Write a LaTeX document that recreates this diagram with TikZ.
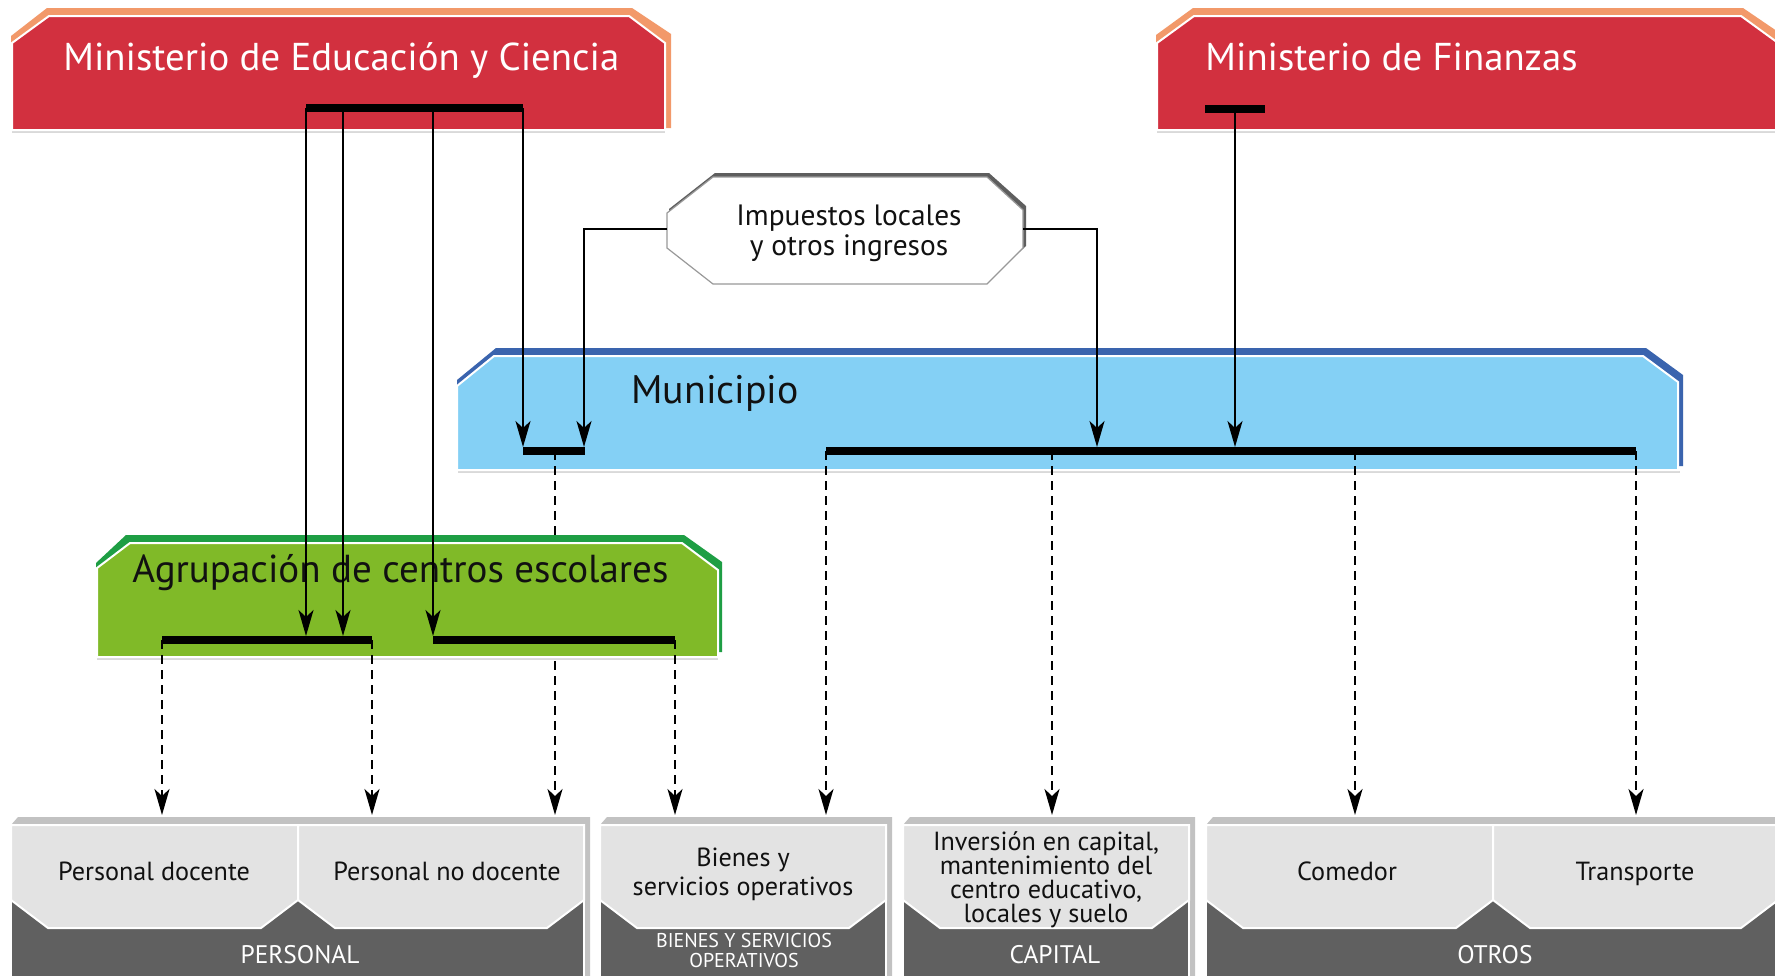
\documentclass[tikz,border=0pt]{standalone}
\usepackage{fontspec}
\setmainfont{PT Sans}
\usetikzlibrary{arrows.meta}
\definecolor{mecred}{HTML}{D2303F}
\definecolor{mecorange}{HTML}{F2996A}
\definecolor{munblue}{HTML}{84D0F5}
\definecolor{munborder}{HTML}{3A64AE}
\definecolor{agrgreen}{HTML}{80BA28}
\definecolor{agrborder}{HTML}{1E9E44}
\definecolor{lightbox}{HTML}{E3E3E3}
\definecolor{darkband}{HTML}{606060}
\definecolor{sideface}{HTML}{C2C2C2}
\definecolor{impborder}{HTML}{5E5E5E}
\definecolor{inkc}{HTML}{111111}
\newcommand{\lbox}[2]{\path[fill=lightbox,draw=white,line width=1pt] (#1,825) -- (#2,825) -- (#2,900) -- ({#2-37},928) -- ({#1+37},928) -- (#1,900) -- cycle;}
\newcommand{\grpbase}[2]{%
  \path[fill=sideface] (#1,825) -- ({#1+7},817) -- ({#2+6},817) -- ({#2+6},980) -- (#1,980) -- cycle;
  \path[fill=darkband,draw=white,line width=0.8pt] (#1,895) rectangle (#2,985);}
\begin{document}
\begin{tikzpicture}[x=0.5pt,y=-0.5pt,
  bar/.style={line width=4pt},
  conn/.style={line width=1pt,-{Stealth[length=13pt,width=7.5pt,inset=3.5pt]}},
  dconn/.style={line width=1pt,dash pattern=on 4.5pt off 3pt,-{Stealth[length=13pt,width=7.5pt,inset=3.5pt]}},
  facefill/.style={draw=white,line width=1pt},
  bigtitle/.style={inner sep=0pt,anchor=base west,font=\fontsize{19.4}{22}\selectfont},
  boxtxt/.style={inner sep=0pt,anchor=base,text=inkc,font=\fontsize{13.1}{15}\selectfont},
  bandtxt/.style={inner sep=0pt,anchor=base,text=white,font=\fontsize{12.7}{14}\selectfont},
  smallband/.style={inner sep=0pt,anchor=base,text=white,font=\fontsize{10}{11}\selectfont}
]
\useasboundingbox (0,0) rectangle (1775,975);
\clip (0,0) rectangle (1775,975);
\fill[white] (0,0) rectangle (1775,975);

% ---- Ministerio de Educacion y Ciencia
\fill[mecorange] (11,36) -- (47,8) -- (632,8) -- (671,34) -- (671,128) -- (11,128) -- cycle;
\draw[black!15,line width=1pt] (12,132) -- (665,132);
\path[fill=mecred,facefill] (12,43) -- (49,16) -- (629,16) -- (665,43) -- (665,130) -- (12,130) -- cycle;
\node[bigtitle,text=white] (mectxt) at (63,70) {Ministerio de Educación y Ciencia};

% ---- Ministerio de Finanzas
\fill[mecorange] (1156,35) -- (1193,8) -- (1743,8) -- (1790,40) -- (1790,128) -- (1156,128) -- cycle;
\draw[black!15,line width=1pt] (1157,132) -- (1780,132);
\path[fill=mecred,facefill] (1157,43) -- (1194,16) -- (1741,16) -- (1785,48) -- (1785,130) -- (1157,130) -- cycle;
\node[bigtitle,text=white] (fintxt) at (1205,70) {Ministerio de Finanzas};

% ---- Impuestos
\fill[impborder] (669,209) -- (715,173) -- (989,173) -- (1026,206) -- (1026,246) -- (989,280) -- (715,280) -- (669,244) -- cycle;
\path[fill=white,draw=black!40,line width=0.6pt] (667,213) -- (713,177) -- (987,177) -- (1023,210) -- (1023,248) -- (987,284) -- (713,284) -- (667,248) -- cycle;
\node[inner sep=0pt,anchor=base,text=inkc,font=\fontsize{14.7}{16}\selectfont] (impA) at (849,225) {Impuestos locales};
\node[inner sep=0pt,anchor=base,text=inkc,font=\fontsize{14.7}{16}\selectfont] (impB) at (849,255) {y otros ingresos};
\coordinate (impL) at (667,229);
\coordinate (impR) at (1023,229);

% ---- Municipio
\fill[munborder] (457,380) -- (496,348) -- (1646,348) -- (1683,375) -- (1683,466) -- (457,466) -- cycle;
\draw[black!15,line width=1pt] (458,472) -- (1680,472);
\path[fill=munblue,facefill] (457,386) -- (494,356) -- (1643,356) -- (1678,382) -- (1678,470) -- (457,470) -- cycle;
\node[bigtitle,text=inkc,font=\fontsize{19.9}{22}\selectfont] (muntxt) at (631,403) {Municipio};

% Municipio bars
\coordinate (msL) at (523,451); \coordinate (msR) at (585,451); \coordinate (msC) at (555,451);
\coordinate (mbL) at (826,451); \coordinate (mbR) at (1636,451);
\draw[bar] (msL) -- (msR);
\draw[bar] (mbL) -- (mbR);

% dashed line behind Agrupacion
\coordinate (tPNd) at (555,815);
\draw[dconn] (msC) -- (tPNd);

% ---- Agrupacion de centros escolares
\fill[agrborder] (96,563) -- (126,535) -- (684,535) -- (722,562) -- (722,652) -- (96,652) -- cycle;
\draw[black!15,line width=1pt] (97,659) -- (718,659);
\path[fill=agrgreen,facefill] (97,568) -- (130,543) -- (682,543) -- (718,570) -- (718,657) -- (97,657) -- cycle;
\node[bigtitle,text=inkc,font=\fontsize{19.5}{22}\selectfont] (agrtxt) at (132,582) {Agrupación de centros escolares};

\coordinate (alL) at (162,640); \coordinate (alR) at (372,640);
\coordinate (arL) at (433,640); \coordinate (arR) at (675,640);
\draw[bar] (alL) -- (alR);
\draw[bar] (arL) -- (arR);

% ---- MEC bar and connectors
\coordinate (mecL) at (306,108); \coordinate (mecR) at (523,108);
\draw[bar] (mecL) -- (mecR);
\coordinate (m1) at (306,108); \coordinate (m2) at (343,108);
\coordinate (m3) at (433,108); \coordinate (m4) at (523,108);
\coordinate (a1) at (306,636); \coordinate (a2) at (343,636);
\coordinate (a3) at (433,636); \coordinate (ms1) at (523,447);
\draw[conn] (m1) -- (a1);
\draw[conn] (m2) -- (a2);
\draw[conn] (m3) -- (a3);
\draw[conn] (m4) -- (ms1);

% ---- Finanzas bar and connector
\coordinate (fL) at (1205,109); \coordinate (fR) at (1265,109); \coordinate (fC) at (1235,109);
\draw[bar] (fL) -- (fR);
\coordinate (mbF) at (1235,447);
\draw[conn] (fC) -- (mbF);

% ---- Impuestos connectors
\coordinate (msT) at (584,447);
\coordinate (mbT) at (1097,447);
\draw[conn] (impL) -| (msT);
\draw[conn] (impR) -| (mbT);

% ---- dashed connectors to bottom
\coordinate (tPD) at (162,815); \coordinate (tPN) at (372,815);
\coordinate (tBS) at (675,815); \coordinate (tBS2) at (826,815);
\coordinate (tCap) at (1052,815); \coordinate (tCom) at (1355,815); \coordinate (tTra) at (1636,815);
\coordinate (mb2) at (1052,451); \coordinate (mb3) at (1355,451);
\draw[dconn] (alL) -- (tPD);
\draw[dconn] (alR) -- (tPN);
\draw[dconn] (arR) -- (tBS);
\draw[dconn] (mbL) -- (tBS2);
\draw[dconn] (mb2) -- (tCap);
\draw[dconn] (mb3) -- (tCom);
\draw[dconn] (mbR) -- (tTra);

% ---- bottom categories
\grpbase{11}{584}
\lbox{11}{298}
\lbox{298}{584}
\grpbase{600}{886}
\lbox{600}{886}
\grpbase{903}{1189}
\lbox{903}{1189}
\grpbase{1206}{1778}
\lbox{1206}{1493}
\lbox{1493}{1778}

\node[boxtxt] (pdoc) at (154,880) {Personal docente};
\node[boxtxt] (pndoc) at (447,880) {Personal no docente};
\node[boxtxt] (bienA) at (743,866) {Bienes y};
\node[boxtxt] (bienB) at (743,895) {servicios operativos};
\node[boxtxt] (capA) at (1046,850) {Inversión en capital,};
\node[boxtxt] (capB) at (1046,874) {mantenimiento del};
\node[boxtxt] (capC) at (1046,898) {centro educativo,};
\node[boxtxt] (capD) at (1046,922) {locales y suelo};
\node[boxtxt] (com) at (1347,880) {Comedor};
\node[boxtxt] (tra) at (1635,880) {Transporte};

\node[bandtxt] (gPer) at (300,963) {PERSONAL};
\node[smallband] (gBieA) at (744,947) {BIENES Y SERVICIOS};
\node[smallband] (gBieB) at (744,967) {OPERATIVOS};
\node[bandtxt] (gCap) at (1055,963) {CAPITAL};
\node[bandtxt] (gOtr) at (1495,963) {OTROS};
\end{tikzpicture}
\end{document}
